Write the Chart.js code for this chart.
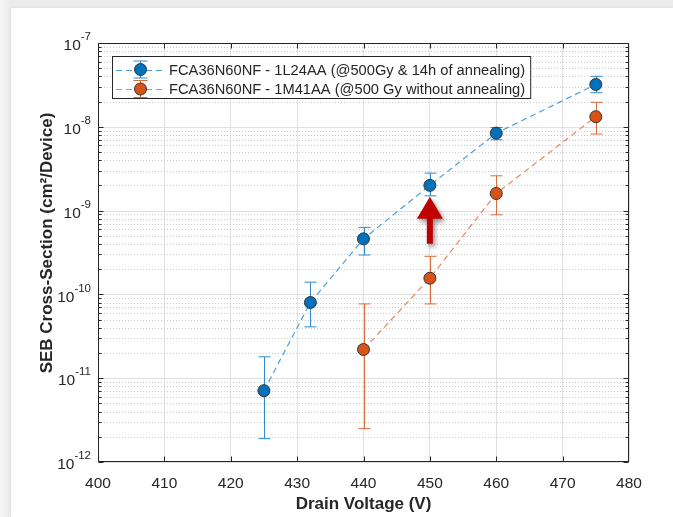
<!DOCTYPE html>
<html>
<head>
<meta charset="utf-8">
<script src="https://cdn.jsdelivr.net/npm/chart.js@4.4.1/dist/chart.umd.min.js"></script>
<style>
  html, body { margin: 0; padding: 0; }
  body { width: 673px; height: 517px; position: relative; overflow: hidden;
         background: linear-gradient(to right, #f6f6f6 0px, #ececec 10px); }
  #sheet { position: absolute; left: 11px; top: 8px; right: 0; bottom: 0; background: #fff;
           box-shadow: -1px -1px 3px rgba(0,0,0,0.06); }
  #wrap { position: absolute; left: 0; top: 0; width: 673px; height: 517px; }
</style>
</head>
<body>
<div id="sheet"></div>
<div id="wrap"><canvas id="sebChart" width="673" height="517"></canvas></div>
<script>
// Drain voltage sweep, SEB cross-section per device (cm^2)
const voltsA   = [425, 432, 440, 450, 460, 475];
const sigmaA   = [7.1e-12, 8.0e-11, 4.6e-10, 2.0e-9, 8.4e-9, 3.2e-8];
const sigmaAHi = [1.8e-11, 1.4e-10, 6.3e-10, 2.8e-9, 9.8e-9, 4.0e-8];
const sigmaALo = [1.9e-12, 4.1e-11, 2.95e-10, 1.5e-9, 7.0e-9, 2.55e-8];

const voltsB   = [440, 450, 460, 475];
const sigmaB   = [2.2e-11, 1.56e-10, 1.6e-9, 1.32e-8];
const sigmaBHi = [7.7e-11, 2.85e-10, 2.6e-9, 1.96e-8];
const sigmaBLo = [2.5e-12, 7.7e-11, 8.9e-10, 8.2e-9];

const labelA = 'FCA36N60NF - 1L24AA (@500Gy & 14h of annealing)';
const labelB = 'FCA36N60NF - 1M41AA (@500 Gy without annealing)';

const xTickMin = 400, xTickMax = 480, xTickStep = 10;
const decadeExps = [-12, -11, -10, -9, -8, -7];
const arrowVolt = 450;

const FONT = '"Liberation Sans", Arial, Helvetica, sans-serif';
const INK = '#262626';

function hline(ctx, x0, x1, y) { ctx.beginPath(); ctx.moveTo(x0, y); ctx.lineTo(x1, y); ctx.stroke(); }
function vline(ctx, x, y0, y1) { ctx.beginPath(); ctx.moveTo(x, y0); ctx.lineTo(x, y1); ctx.stroke(); }

function drawErrorBar(ctx, px, top, bot, color, cap) {
  ctx.strokeStyle = color;
  ctx.lineWidth = 1;
  vline(ctx, px, top, bot);
  hline(ctx, px - cap, px + cap, top);
  hline(ctx, px - cap, px + cap, bot);
}

const matlabAxes = {
  id: 'matlabAxes',
  beforeDatasetsDraw(chart) {
    const { ctx, chartArea: a, scales: { y } } = chart;
    ctx.save();
    ctx.lineWidth = 1;
    // minor grid (dotted) between decades
    ctx.strokeStyle = '#cbcbcb';
    ctx.setLineDash([1, 2]);
    for (let k = 0; k < decadeExps.length - 1; k++) {
      for (let m = 2; m <= 9; m++) {
        const py = Math.round(y.getPixelForValue(m * Math.pow(10, decadeExps[k]))) + 0.5;
        hline(ctx, a.left, a.right, py);
      }
    }
    ctx.setLineDash([]);
    // decade grid
    ctx.strokeStyle = '#e0e0e0';
    decadeExps.forEach(e => {
      const py = Math.round(y.getPixelForValue(Math.pow(10, e))) + 0.5;
      hline(ctx, a.left, a.right, py);
    });
    // error bars go under the markers
    chart.data.datasets.forEach(ds => {
      ds.data.forEach((p, j) => {
        const px = Math.round(chart.scales.x.getPixelForValue(p.x)) + 0.5;
        const top = y.getPixelForValue(ds.errHi[j]);
        const bot = y.getPixelForValue(ds.errLo[j]);
        drawErrorBar(ctx, px, top, bot, ds.errColor, 6);
      });
    });
    ctx.restore();
  },
  afterDatasetsDraw(chart) {
    const { ctx, chartArea: a, scales: { x, y } } = chart;
    ctx.save();
    ctx.strokeStyle = INK;
    ctx.lineWidth = 1;
    const L = Math.round(a.left) + 0.5, R = Math.round(a.right) - 0.5;
    const T = Math.round(a.top) + 0.5, B = Math.round(a.bottom) - 0.5;
    ctx.strokeRect(L, T, R - L, B - T);
    // inward tick marks on all four sides
    for (let v = xTickMin + xTickStep; v < xTickMax; v += xTickStep) {
      const px = Math.round(x.getPixelForValue(v)) + 0.5;
      vline(ctx, px, B, B - 5);
      vline(ctx, px, T, T + 5);
    }
    decadeExps.forEach((e, k) => {
      const py = Math.round(y.getPixelForValue(Math.pow(10, e))) + 0.5;
      hline(ctx, L, L + 5, py);
      hline(ctx, R, R - 5, py);
      if (k === decadeExps.length - 1) return;
      for (let m = 2; m <= 9; m++) {
        const my = Math.round(y.getPixelForValue(m * Math.pow(10, e))) + 0.5;
        hline(ctx, L, L + 3, my);
        hline(ctx, R, R - 3, my);
      }
    });

    // arrow marking the 450 V point
    const ai = voltsA.indexOf(arrowVolt);
    const ax = x.getPixelForValue(arrowVolt);
    const tip = y.getPixelForValue(sigmaALo[ai]) + 1;
    ctx.save();
    ctx.shadowColor = 'rgba(0,0,0,0.45)';
    ctx.shadowBlur = 5;
    ctx.shadowOffsetX = 2;
    ctx.shadowOffsetY = 3;
    ctx.fillStyle = '#c00000';
    ctx.beginPath();
    ctx.moveTo(ax, tip);
    ctx.lineTo(ax + 13, tip + 22);
    ctx.lineTo(ax + 3, tip + 22);
    ctx.lineTo(ax + 3, tip + 47);
    ctx.lineTo(ax - 3, tip + 47);
    ctx.lineTo(ax - 3, tip + 22);
    ctx.lineTo(ax - 13, tip + 22);
    ctx.closePath();
    ctx.fill();
    ctx.restore();

    // legend box
    const lx = 112, ly = 56, rowH = 19.5, textX = 169;
    ctx.font = '14.7px ' + FONT;
    const widest = Math.max(...chart.data.datasets.map(d => ctx.measureText(d.label).width));
    const boxW = textX - lx + widest + 6, boxH = 43;
    ctx.fillStyle = '#fff';
    ctx.fillRect(lx, ly, boxW, boxH);
    ctx.strokeStyle = INK;
    ctx.strokeRect(lx + 0.5, ly + 0.5, boxW - 1, boxH - 1);
    chart.data.datasets.forEach((ds, i) => {
      const ry = ly + 13.5 + i * rowH;
      ctx.strokeStyle = ds.borderColor;
      ctx.lineWidth = ds.borderWidth;
      ctx.setLineDash(ds.borderDash);
      hline(ctx, 116, 163, Math.round(ry) + 0.5);
      ctx.setLineDash([]);
      drawErrorBar(ctx, 140.5, ry - 8.5, ry + 8.5, ds.errColor, 7);
      ctx.beginPath();
      ctx.arc(140.5, ry, 6, 0, Math.PI * 2);
      ctx.fillStyle = ds.pointBackgroundColor;
      ctx.fill();
      ctx.strokeStyle = ds.pointBorderColor;
      ctx.stroke();
      ctx.fillStyle = INK;
      ctx.textAlign = 'left';
      ctx.textBaseline = 'middle';
      ctx.fillText(ds.label, textX, ry + 1);
    });
    ctx.restore();
  },
  afterDraw(chart) {
    const { ctx, chartArea: a, scales: { y } } = chart;
    ctx.save();
    ctx.fillStyle = INK;
    // y tick labels as 10^n
    decadeExps.forEach(e => {
      const py = y.getPixelForValue(Math.pow(10, e));
      const exp = String(e);
      ctx.font = '11.5px ' + FONT;
      const ew = ctx.measureText(exp).width;
      const right = a.left - 7;
      ctx.textAlign = 'right';
      ctx.textBaseline = 'middle';
      ctx.fillText(exp, right, py - 6);
      ctx.font = '15.5px ' + FONT;
      ctx.fillText('10', right - ew, py + 3);
    });
    // y axis title
    ctx.translate(47, 243);
    ctx.rotate(-Math.PI / 2);
    ctx.font = 'bold 17px ' + FONT;
    ctx.textAlign = 'center';
    ctx.textBaseline = 'middle';
    ctx.fillText('SEB Cross-Section (cm\u00B2/Device)', 0, 0);
    ctx.restore();
  }
};

const ctx = document.getElementById('sebChart');
new Chart(ctx, {
  type: 'line',
  data: {
    datasets: [
      {
        label: labelA,
        data: voltsA.map((v, i) => ({ x: v, y: sigmaA[i] })),
        errHi: sigmaAHi, errLo: sigmaALo, errColor: '#2f8bd0',
        borderColor: '#4aa0de', borderWidth: 1.2, borderDash: [6, 4],
        pointRadius: 6, pointHoverRadius: 6, pointBorderWidth: 1,
        pointBackgroundColor: '#0072BD', pointBorderColor: '#333333',
        tension: 0, fill: false
      },
      {
        label: labelB,
        data: voltsB.map((v, i) => ({ x: v, y: sigmaB[i] })),
        errHi: sigmaBHi, errLo: sigmaBLo, errColor: '#db6a3c',
        borderColor: '#e8875e', borderWidth: 1.2, borderDash: [6, 4],
        pointRadius: 6, pointHoverRadius: 6, pointBorderWidth: 1,
        pointBackgroundColor: '#D95319', pointBorderColor: '#333333',
        tension: 0, fill: false
      }
    ]
  },
  options: {
    responsive: false,
    animation: false,
    devicePixelRatio: 1,
    layout: { padding: { left: 98, right: 44, top: 43, bottom: 0 } },
    plugins: { legend: { display: false }, tooltip: { enabled: false } },
    scales: {
      x: {
        type: 'linear', min: xTickMin, max: xTickMax,
        afterFit: scale => { scale.height = 55; },
        ticks: { stepSize: xTickStep, padding: 12, color: INK, font: { family: FONT, size: 15.5 } },
        grid: { color: '#e0e0e0', drawTicks: false },
        border: { display: false },
        title: {
          display: true, text: 'Drain Voltage (V)', color: INK,
          font: { family: FONT, size: 17, weight: 'bold' },
          padding: { top: 0, bottom: 2 }
        }
      },
      y: { type: 'logarithmic', min: 1e-12, max: 1e-7, display: false }
    }
  },
  plugins: [matlabAxes]
});
</script>
</body>
</html>
